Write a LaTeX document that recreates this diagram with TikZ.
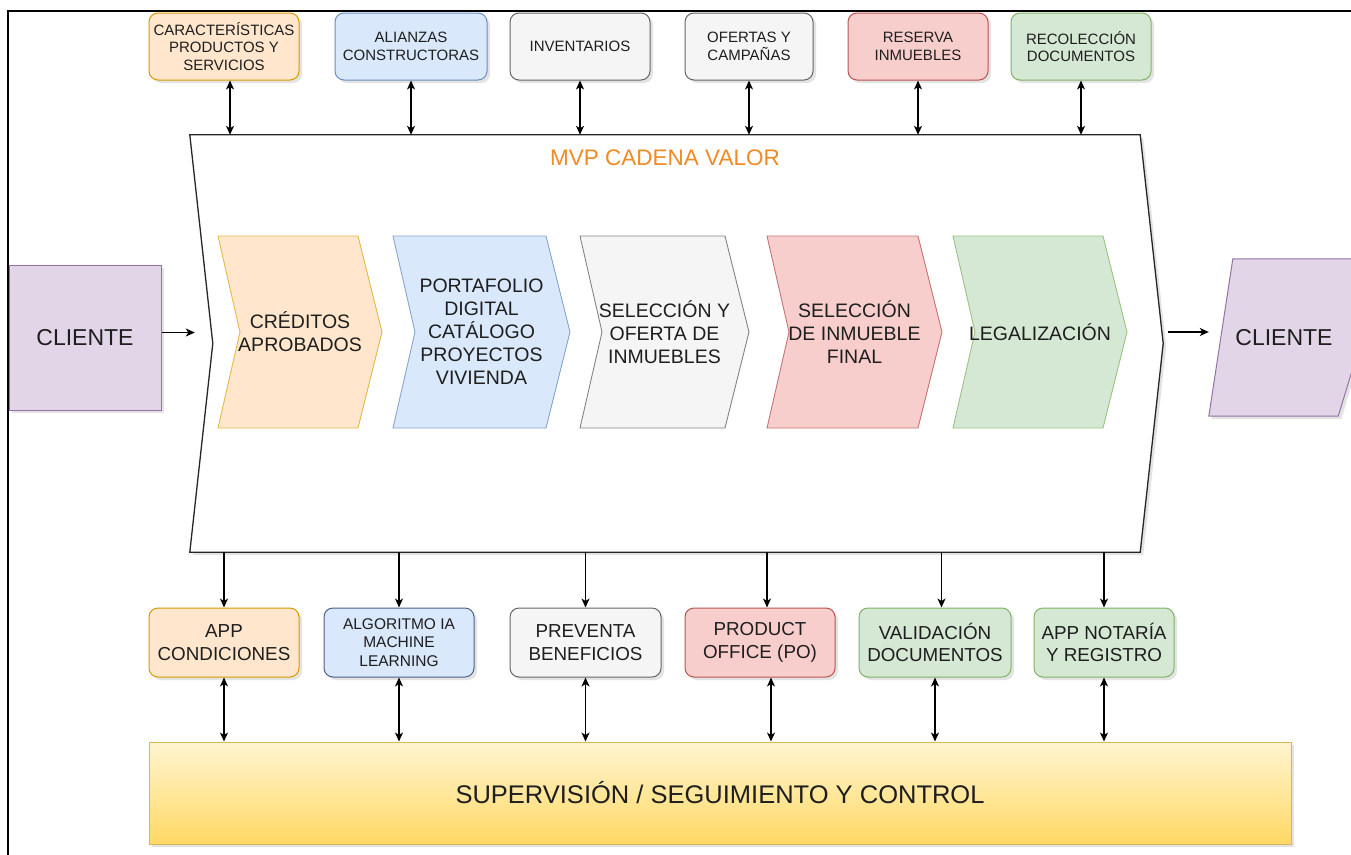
\documentclass[tikz,border=0pt]{standalone}
\usepackage{fontspec}
\setmainfont{Liberation Sans}
\usetikzlibrary{arrows.meta,shadows,calc}
\definecolor{orF}{HTML}{FFE6CC}\definecolor{orD}{HTML}{D79B00}
\definecolor{blF}{HTML}{DAE8FC}\definecolor{blD}{HTML}{6C8EBF}
\definecolor{grF}{HTML}{F5F5F5}\definecolor{grD}{HTML}{666666}
\definecolor{reF}{HTML}{F8CECC}\definecolor{reD}{HTML}{B85450}
\definecolor{gnF}{HTML}{D5E8D4}\definecolor{gnD}{HTML}{82B366}
\definecolor{puF}{HTML}{E1D5E7}\definecolor{puD}{HTML}{9673A6}
\definecolor{yeT}{HTML}{FFF4CF}\definecolor{yeB}{HTML}{FFD966}\definecolor{yeD}{HTML}{D6B656}
\definecolor{mvp}{HTML}{F08A24}
\definecolor{txt}{HTML}{1E1E1E}
\newcommand\myfs[2]{\fontsize{#1}{#2}\selectfont}
\newcommand\mychev[6]{%
  \draw[chevline,fill=#4,draw=#5] (#2,236) -- (#3,236) -- (#3+24,332) -- (#3,428) -- (#2,428) -- (#2+22,332) -- cycle;
  \node[chevtext] (#1) at ({(#2+#3+24)/2},332) {#6};}
\begin{document}
\begin{tikzpicture}[x=1pt,y=-1pt,
  shad/.style={drop shadow={opacity=0.22,shadow xshift=3pt,shadow yshift=-3pt}},
  tbox/.style={draw,rounded corners=9,line width=1pt,align=center,text=txt,inner sep=0pt,
     minimum height=67,font=\myfs{15}{17.5},shad},
  bbox/.style={tbox,minimum height=69,font=\myfs{18.8}{22.7}},
  chevline/.style={line width=0.9pt},
  chevtext/.style={align=center,text=txt,font=\myfs{19.5}{23},inner sep=0pt},
  tip/.tip={Stealth[length=9pt,width=8pt,inset=2.5pt]},
  arr/.style={line width=1.2pt,-tip},
  darr/.style={line width=1.2pt,tip-tip}]
\useasboundingbox (0,0) rectangle (1351,854);
\clip (0,0) rectangle (1351,854);
\fill[white] (0,0) rectangle (1351,854);
% frame
\draw[line width=1.4pt] (8,860) -- (8,11) -- (1360,11);

% top boxes
\node[tbox,fill=orF,draw=orD,minimum width=150] (t1) at (224,46.5) {CARACTERÍSTICAS\\PRODUCTOS Y\\SERVICIOS};
\node[tbox,fill=blF,draw=blD,minimum width=152] (t2) at (411,46.5) {ALIANZAS\\CONSTRUCTORAS};
\node[tbox,fill=grF,draw=grD,minimum width=140] (t3) at (580,46.5) {INVENTARIOS};
\node[tbox,fill=grF,draw=grD,minimum width=128] (t4) at (749,46.5) {OFERTAS Y\\CAMPAÑAS};
\node[tbox,fill=reF,draw=reD,minimum width=140] (t5) at (918,46.5) {RESERVA\\INMUEBLES};
\node[tbox,fill=gnF,draw=gnD,minimum width=140] (t6) at (1081,46.5) {RECOLECCIÓN\\DOCUMENTOS};

% main value chain shape
\node[minimum width=973,minimum height=417,inner sep=0pt] (main) at (676.5,343.5) {};
\draw[line width=1.3pt,draw=black!85,fill=white,shad] (main.north west) -- ([xshift=-23pt]main.north east) -- (main.east)
   -- ([xshift=-23pt]main.south east) -- (main.south west) -- ([xshift=23pt]main.west) -- cycle;
\node[text=mvp,font=\myfs{22.5}{26}] (mvp) at (665,158) {MVP CADENA VALOR};

% chevrons
\mychev{c1}{218}{358}{orF}{orD!70}{CRÉDITOS\\APROBADOS}
\mychev{c2}{393}{546}{blF}{blD!80}{PORTAFOLIO\\DIGITAL\\CATÁLOGO\\PROYECTOS\\VIVIENDA}
\mychev{c3}{580}{725}{grF}{grD!80}{SELECCIÓN Y\\OFERTA DE\\INMUEBLES}
\mychev{c4}{767}{918}{reF}{reD!80}{SELECCIÓN\\DE INMUEBLE\\FINAL}
\mychev{c5}{953}{1103}{gnF}{gnD!80}{LEGALIZACIÓN}

% clients
\node[draw=puD,fill=puF,line width=1pt,minimum width=152,minimum height=145,inner sep=0pt,
      text=txt,font=\myfs{23}{27},shad] (cliL) at (85,337.5) {CLIENTE};
\node[minimum width=153,minimum height=157,inner sep=0pt] (cliRbox) at (1285.5,337.5) {};
\draw[draw=puD,fill=puF,line width=1pt,shad] ([xshift=24pt]cliRbox.north west) -- ([xshift=24pt]cliRbox.north east)
   -- ([xshift=-24pt]cliRbox.south east) -- (cliRbox.south west) -- cycle;
\node[text=txt,font=\myfs{23}{27}] (cliR) at (1284,338) {CLIENTE};

% bottom boxes
\node[bbox,fill=orF,draw=orD,minimum width=150] (b1) at (224,642.5) {APP\\CONDICIONES};
\node[bbox,fill=blF,draw=blD!70!black,minimum width=150,font=\myfs{15.5}{18.7}] (b2) at (399,642.5) {ALGORITMO IA\\MACHINE\\LEARNING};
\node[bbox,fill=grF,draw=grD,minimum width=151] (b3) at (585.5,642.5) {PREVENTA\\BENEFICIOS};
\node[bbox,fill=reF,draw=reD,minimum width=150] (b4) at (760,642.5) {PRODUCT\\OFFICE (PO)};
\node[bbox,fill=gnF,draw=gnD,minimum width=152] (b5) at (935,642.5) {VALIDACIÓN\\DOCUMENTOS};
\node[bbox,fill=gnF,draw=gnD,minimum width=140] (b6) at (1104,642.5) {APP NOTARÍA\\Y REGISTRO};

% supervision
\node[draw=yeD,top color=yeT,bottom color=yeB,line width=1pt,minimum width=1142,minimum height=102,
      inner sep=0pt,text=txt,font=\myfs{25.5}{30},shad] (sup) at (720,793) {SUPERVISIÓN / SEGUIMIENTO Y CONTROL};

% connectors top
\draw[darr] ([xshift=6pt]t1.south) -- ([xshift=6pt]t1.south |- main.north);
\draw[darr] (t2.south) -- (t2.south |- main.north);
\draw[darr] (t3.south) -- (t3.south |- main.north);
\draw[darr] (t4.south) -- (t4.south |- main.north);
\draw[darr] (t5.south) -- (t5.south |- main.north);
\draw[darr] (t6.south) -- (t6.south |- main.north);

% connectors main -> bottom boxes
\draw[arr] (b1.north |- main.south) -- (b1.north);
\draw[arr] (b2.north |- main.south) -- (b2.north);
\draw[arr] (b3.north |- main.south) -- (b3.north);
\draw[arr] ([xshift=7pt]b4.north |- main.south) -- ([xshift=7pt]b4.north);
\draw[arr] ([xshift=6.5pt]b5.north |- main.south) -- ([xshift=6.5pt]b5.north);
\draw[arr] (b6.north |- main.south) -- (b6.north);

% connectors bottom boxes <-> supervision
\draw[darr] (b1.south) -- (b1.south |- sup.north);
\draw[darr] (b2.south) -- (b2.south |- sup.north);
\draw[darr] (b3.south) -- (b3.south |- sup.north);
\draw[darr] ([xshift=11pt]b4.south) -- ([xshift=11pt]b4.south |- sup.north);
\draw[darr] (b5.south) -- (b5.south |- sup.north);
\draw[darr] (b6.south) -- (b6.south |- sup.north);

% client arrows
\draw[arr,shorten >=-5pt] ([yshift=5pt]cliL.east) -- ([yshift=5pt]cliL.east -| main.west);
\draw[arr,shorten <=5pt] ([yshift=5.5pt]cliRbox.west -| main.east) -- ([yshift=5.5pt]cliRbox.west);
\end{tikzpicture}
\end{document}
